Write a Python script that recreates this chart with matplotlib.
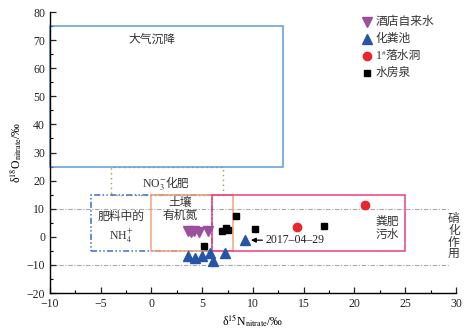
import matplotlib
matplotlib.use("Agg")
import matplotlib.pyplot as plt
from matplotlib.patches import Rectangle

plt.rcParams['font.family'] = ['Liberation Serif', 'Noto Sans CJK SC']
plt.rcParams['mathtext.fontset'] = 'stix'
plt.rcParams['axes.unicode_minus'] = True

# ---- sample data: (δ15N, δ18O) ----
hotel_x = [3.6, 3.9, 4.2, 4.7, 5.6]
hotel_y = [2.0, 1.6, 2.0, 1.7, 2.2]

septic_x = [3.6, 4.3, 5.0, 5.8, 6.1, 7.2, 9.2]
septic_y = [-6.9, -7.5, -6.7, -5.9, -8.5, -5.9, -1.0]

cave_x = [14.3, 21.0]
cave_y = [3.6, 11.3]

spring_x = [5.2, 6.9, 7.3, 7.5, 8.3, 10.2, 17.0]
spring_y = [-3.1, 1.9, 3.1, 2.5, 7.3, 2.7, 3.8]

series_names = ['酒店自来水', '化粪池', '落水洞', '水房泉']

# source-range boxes: (x0, x1, y0, y1)
atmos_box = (-10, 13, 25, 75)
no3_fert_box = (-4, 7, 15, 25)
nh4_box = (-6, 6, -5, 15)
soil_box = (0, 8, -5, 15)
manure_box = (6, 25, -5, 15)
nitrif_band = (-10, 10)

x_ticks = [-10, -5, 0, 5, 10, 15, 20, 25, 30]
y_ticks = [-20, -10, 0, 10, 20, 30, 40, 50, 60, 70, 80]

TXT = '#333333'
FS = 8.5

fig = plt.figure(figsize=(4.73, 3.28), dpi=100)
ax = fig.add_axes([0.1057, 0.1067, 0.8583, 0.8567])
ax.set_xlim(-10, 30)
ax.set_ylim(-20, 80)


def box(b, **kw):
    x0, x1, y0, y1 = b
    ax.add_patch(Rectangle((x0, y0), x1 - x0, y1 - y0, fill=False, **kw))


# nitrification band
for yv in nitrif_band:
    ax.plot([-10, 29.3], [yv, yv], color='#a8a8a8', lw=0.8,
            dashes=(4, 1.5, 1, 1.5), zorder=1)

box(no3_fert_box, edgecolor='#9aa040', lw=1.0, linestyle=(0, (1, 2.5)), zorder=1)
box(atmos_box, edgecolor='#5d9bd6', lw=1.1, zorder=2, clip_on=False)
box(nh4_box, edgecolor='#3f6fc4', lw=1.1,
    linestyle=(0, (4, 1.5, 1, 1.5, 1, 1.5)), zorder=2)
box(soil_box, edgecolor='#f2a07c', lw=1.1, zorder=2)
box(manure_box, edgecolor='#e8407e', lw=1.1, zorder=2)

# region labels
ax.text(0, 70, '大气沉降', ha='center', va='center', fontsize=FS, color=TXT)
ax.text(1.5, 17.6, 'NO$_3^{-}$', ha='right', va='baseline', fontsize=FS, color=TXT)
ax.text(1.35, 17.6, '化肥', ha='left', va='baseline', fontsize=FS, color=TXT)
ax.text(2.8, 9.7, '土壤\n有机氮', ha='center', va='center', fontsize=FS,
        color=TXT, linespacing=1.1)
ax.text(-3.0, 3.0, '肥料中的\nNH$_4^{+}$', ha='center', va='center', fontsize=FS,
        color=TXT, linespacing=1.3)
ax.text(23.2, 3.1, '粪肥\n污水', ha='center', va='center', fontsize=FS,
        color=TXT, linespacing=1.1)
ax.text(29.8, 0, '\n'.join('硝化作用'), ha='center', va='center', fontsize=FS,
        color=TXT, linespacing=0.95, clip_on=False)

# data series
styles = [
    dict(marker='v', color='#9b4f9e', markersize=6.5),
    dict(marker='^', color='#2455a6', markersize=6.5),
    dict(marker='o', color='#e8262b', markersize=6),
    dict(marker='s', color='black', markersize=5),
]
series = [(hotel_x, hotel_y), (septic_x, septic_y), (cave_x, cave_y), (spring_x, spring_y)]
for (xs, ys), st in zip(series, styles):
    ax.plot(xs, ys, linestyle='none', zorder=5, **st)

ax.annotate('2017–04–29', xy=(9.8, -1.2), xytext=(11.2, -1.2),
            ha='left', va='center', fontsize=FS, color='#222222',
            arrowprops=dict(arrowstyle='-|>', color='black', lw=0.9,
                            mutation_scale=7, shrinkA=0, shrinkB=0))

# legend (drawn by hand so the superscript label renders with CJK text)
leg_mx, leg_tx = 0.781, 0.803
leg_rows = [0.964, 0.904, 0.843, 0.783]
for i, (name, st, ry) in enumerate(zip(series_names, styles, leg_rows)):
    ax.plot([leg_mx], [ry], transform=ax.transAxes, clip_on=False,
            linestyle='none', zorder=6, **st)
    if i == 2:
        ax.text(leg_tx, ry, '1', transform=ax.transAxes, ha='left',
                va='center', fontsize=FS, color=TXT)
        ax.annotate('#', xy=(leg_tx, ry), xycoords='axes fraction',
                    xytext=(4.3, 2.0), textcoords='offset points',
                    ha='left', va='center', fontsize=5, color=TXT)
        ax.annotate(name, xy=(leg_tx, ry), xycoords='axes fraction',
                    xytext=(7.2, 0), textcoords='offset points',
                    ha='left', va='center', fontsize=FS, color=TXT)
    else:
        ax.text(leg_tx, ry, name, transform=ax.transAxes, ha='left',
                va='center', fontsize=FS, color=TXT)

# axes styling
for s in ('top', 'right'):
    ax.spines[s].set_visible(False)
for s in ('left', 'bottom'):
    ax.spines[s].set_linewidth(1.0)
ax.set_xticks(x_ticks)
ax.set_yticks(y_ticks)
ax.set_xticks([v + 2.5 for v in x_ticks[:-1]], minor=True)
ax.set_yticks([v + 5 for v in y_ticks[:-1]], minor=True)
ax.tick_params(which='major', direction='in', length=4, width=0.9,
               labelsize=FS, colors='#222222')
ax.tick_params(which='minor', direction='in', length=2, width=0.8)

ax.set_xlabel('δ$^{15}$N$_{\\mathrm{nitrate}}$/‰', fontsize=FS, labelpad=2)
ax.set_ylabel('δ$^{18}$O$_{\\mathrm{nitrate}}$/‰', fontsize=FS, labelpad=2)

fig.savefig('out.png', dpi=100)
